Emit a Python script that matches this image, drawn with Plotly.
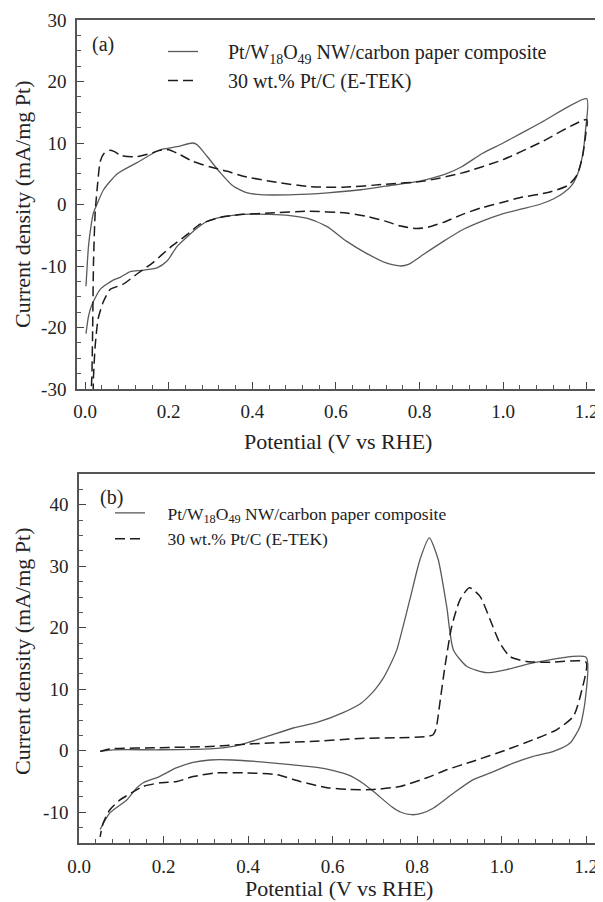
import plotly.graph_objects as go

# ---------------- Panel (a) data ----------------
a_solid_x = [0.002, 0.008, 0.014, 0.020, 0.028, 0.044, 0.077, 0.124, 0.179, 0.220, 0.258, 0.268,
             0.292, 0.323, 0.354, 0.388, 0.420, 0.500, 0.580, 0.660, 0.720, 0.800, 0.860, 0.900,
             0.950, 1.000, 1.090, 1.200,
             1.197, 1.190, 1.180, 1.165, 1.145, 1.120, 1.087, 1.040, 0.995, 0.950, 0.903, 0.857,
             0.810, 0.775, 0.755, 0.720, 0.672, 0.626, 0.579, 0.534, 0.490, 0.440, 0.378, 0.323,
             0.290, 0.265, 0.245, 0.220, 0.196, 0.172, 0.136, 0.108, 0.085, 0.067, 0.036, 0.015,
             0.008, 0.002]
a_solid_y = [-13.3, -6.8, -3.5, -1.3, 0.0, 2.4, 5.0, 6.8, 8.9, 9.4, 10.0, 9.7,
             7.8, 5.2, 3.0, 1.9, 1.6, 1.6, 1.9, 2.4, 3.0, 3.8, 4.9, 6.1,
             8.3, 10.0, 13.3, 17.2,
             12.0, 8.0, 5.3, 3.2, 1.9, 0.9, 0.0, -0.8, -1.6, -2.7, -4.1, -6.0,
             -8.1, -9.7, -10.0, -9.5, -7.9, -6.0, -3.6, -2.3, -1.8, -1.6, -1.6, -2.1,
             -2.8, -4.0, -5.2, -6.8, -9.2, -10.3, -10.7, -10.9, -11.8, -12.3, -13.8, -16.5,
             -18.2, -21.0]

a_dash_x = [0.013, 0.016, 0.018, 0.020, 0.024, 0.030, 0.036, 0.045, 0.058, 0.070, 0.085, 0.100,
            0.124, 0.156, 0.179, 0.200, 0.227, 0.258, 0.300, 0.340, 0.378, 0.459, 0.538, 0.617,
            0.720, 0.810, 0.900, 1.000, 1.087, 1.200,
            1.198, 1.190, 1.177, 1.155, 1.110, 1.040, 0.995, 0.950, 0.903, 0.857, 0.820, 0.793,
            0.755, 0.718, 0.672, 0.626, 0.534, 0.441, 0.378, 0.323, 0.275, 0.244, 0.203, 0.163,
            0.124, 0.090, 0.060, 0.043, 0.031, 0.024, 0.020, 0.019]
a_dash_y = [-32.0, -28.0, -20.0, -9.4, -1.3, 3.5, 7.0, 8.3, 8.8, 8.6, 8.0, 7.8,
            7.8, 8.3, 8.8, 8.9, 8.1, 7.0, 6.1, 5.4, 4.6, 3.6, 2.9, 2.8,
            3.3, 3.8, 5.1, 7.3, 10.0, 13.8,
            11.6, 7.8, 4.8, 3.1, 2.0, 1.1, 0.3, -0.5, -1.6, -2.9, -3.7, -3.9,
            -3.5, -2.7, -1.9, -1.4, -1.1, -1.4, -1.6, -2.1, -3.2, -4.9, -7.0, -9.4,
            -11.3, -13.0, -13.8, -15.9, -18.6, -23.0, -28.0, -32.0]

# ---------------- Panel (b) data ----------------
b_solid_x = [0.050, 0.080, 0.190, 0.310, 0.364, 0.397, 0.444, 0.507, 0.563, 0.625, 0.665, 0.682,
             0.700, 0.720, 0.736, 0.752, 0.783, 0.807, 0.829, 0.850, 0.870, 0.886, 0.918, 0.965,
             1.012, 1.075, 1.200,
             1.198, 1.186, 1.162, 1.123, 1.075, 1.028, 0.981, 0.933, 0.886, 0.839, 0.810, 0.787,
             0.762, 0.740, 0.700, 0.670, 0.640, 0.600, 0.563, 0.507, 0.430, 0.364, 0.310, 0.270,
             0.230, 0.190, 0.152, 0.137, 0.113, 0.073, 0.050]
b_solid_y = [-0.1, 0.15, 0.16, 0.3, 0.7, 1.3, 2.3, 3.7, 4.6, 6.2, 7.6, 8.6,
             9.9, 11.8, 13.9, 16.4, 24.6, 31.1, 34.6, 31.1, 23.5, 16.4, 13.7, 12.7,
             13.2, 14.3, 15.2,
             8.3, 4.0, 1.25, -0.1, -0.9, -2.0, -3.4, -4.7, -6.9, -9.3, -10.2, -10.4,
             -10.0, -9.1, -6.8, -5.2, -4.0, -3.2, -2.7, -2.3, -1.8, -1.5, -1.5, -1.9,
             -2.8, -4.2, -5.2, -6.0, -8.0, -10.1, -12.8]

b_dash_x = [0.050, 0.073, 0.190, 0.310, 0.428, 0.547, 0.665, 0.750, 0.823, 0.838, 0.845, 0.854,
            0.866, 0.882, 0.902, 0.924, 0.949, 0.973, 0.996, 1.020, 1.060, 1.115, 1.200,
            1.190, 1.170, 1.130, 1.075, 1.012, 0.933, 0.870, 0.823, 0.760, 0.697, 0.641, 0.587,
            0.523, 0.469, 0.397, 0.326, 0.270, 0.232, 0.192, 0.152, 0.128, 0.097, 0.073, 0.057,
            0.050]
b_dash_y = [-0.1, 0.3, 0.5, 0.7, 1.2, 1.5, 2.0, 2.1, 2.3, 2.6, 3.6, 7.8,
            13.7, 20.2, 24.6, 26.5, 25.1, 21.3, 17.5, 15.3, 14.5, 14.4, 14.4,
            9.9, 5.6, 3.4, 1.8, 0.16, -1.7, -3.1, -4.4, -5.8, -6.3, -6.3, -6.0,
            -5.0, -3.9, -3.6, -3.6, -4.2, -5.0, -5.2, -5.8, -6.7, -8.0, -9.6, -11.8,
            -14.0]

name_solid = "Pt/W<sub>18</sub>O<sub>49</sub> NW/carbon paper composite"
name_dash = "30 wt.% Pt/C (E-TEK)"
x_ticks = [0.0, 0.2, 0.4, 0.6, 0.8, 1.0, 1.2]
x_ticktext = ["0.0", "0.2", "0.4", "0.6", "0.8", "1.0", "1.2"]
ya_ticks = [-30, -20, -10, 0, 10, 20, 30]
ya_ticktext = ["-30", "-20", "-10", "0", "10", "20", "30"]
yb_ticks = [-10, 0, 10, 20, 30, 40]
yb_ticktext = ["-10", "0", "10", "20", "30", "40"]

FONT = "Liberation Serif, Times New Roman, serif"
# page body adds an 8px margin; the figure is sized so that it ends at the window edge
OFF = 8
W, H = 603 - OFF, 902 - OFF
SOLID_C = "#5a5a5a"
DASH_C = "#1c1c1c"
TXT = "#222222"

fig = go.Figure()

nb5 = "\u00a0" * 5
nb4 = "\u00a0" * 4

fig.add_trace(go.Scatter(x=a_solid_x, y=a_solid_y, mode="lines", name=nb5 + name_solid,
                         line=dict(color=SOLID_C, width=1.3, shape="spline", smoothing=0.6),
                         xaxis="x", yaxis="y", legend="legend"))
fig.add_trace(go.Scatter(x=a_dash_x, y=a_dash_y, mode="lines", name=nb5 + name_dash,
                         line=dict(color=DASH_C, width=1.5, dash="10px,5px", shape="spline", smoothing=0.6),
                         xaxis="x", yaxis="y", legend="legend"))
fig.add_trace(go.Scatter(x=b_solid_x, y=b_solid_y, mode="lines", name=nb4 + name_solid,
                         line=dict(color=SOLID_C, width=1.3, shape="spline", smoothing=0.6),
                         xaxis="x2", yaxis="y2", legend="legend2"))
fig.add_trace(go.Scatter(x=b_dash_x, y=b_dash_y, mode="lines", name=nb4 + name_dash,
                         line=dict(color=DASH_C, width=1.5, dash="10px,5px", shape="spline", smoothing=0.6),
                         xaxis="x2", yaxis="y2", legend="legend2"))

axis_common = dict(showgrid=False, zeroline=False, showline=True, linecolor="#555555",
                   linewidth=1.5, ticks="inside", ticklen=7, tickwidth=1.2, tickcolor="#444444",
                   automargin=False, tickmode="array",
                   tickfont=dict(family=FONT, size=19, color=TXT))
minor_common = dict(ticks="inside", ticklen=4, tickwidth=1, tickcolor="#555555", showgrid=False)

def px_x(p):
    return (p - OFF) / W

def px_y(p):
    return 1 - (p - OFF) / H

fig.update_layout(
    template="none",
    width=W, height=H,
    margin=dict(l=0, r=0, t=0, b=0, pad=0),
    paper_bgcolor="white", plot_bgcolor="white",
    font=dict(family=FONT, color=TXT),
    xaxis=dict(axis_common, domain=[px_x(77), 1], range=[-0.0195, 1.239], anchor="y",
               tickvals=x_ticks, ticktext=x_ticktext, mirror=True, ticklabelstandoff=4,
               minor=dict(minor_common, dtick=0.04, tick0=0)),
    yaxis=dict(axis_common, domain=[px_y(389), px_y(20)], range=[-30, 30], anchor="x",
               tickvals=ya_ticks, ticktext=ya_ticktext, ticklabelstandoff=5,
               minor=dict(minor_common, dtick=2.5, tick0=0)),
    xaxis2=dict(axis_common, domain=[px_x(79), 1], range=[0, 1.240], anchor="y2",
                tickvals=x_ticks, ticktext=x_ticktext, mirror=True, ticklabelstandoff=5,
                minor=dict(minor_common, dtick=0.04, tick0=0)),
    yaxis2=dict(axis_common, domain=[px_y(843), px_y(474)], range=[-15, 45], anchor="x2",
                tickvals=yb_ticks, ticktext=yb_ticktext, ticklabelstandoff=5,
                minor=dict(minor_common, dtick=2.5, tick0=0)),
    legend=dict(x=px_x(163), y=px_y(32), xanchor="left", yanchor="top",
                bgcolor="rgba(0,0,0,0)", borderwidth=0,
                font=dict(family=FONT, size=20, color=TXT), tracegroupgap=0),
    legend2=dict(x=px_x(110), y=px_y(495), xanchor="left", yanchor="top",
                 bgcolor="rgba(0,0,0,0)", borderwidth=0,
                 font=dict(family=FONT, size=17.5, color=TXT), tracegroupgap=0),
    showlegend=True,
)

def anno(text, x, y, size, angle=0):
    return dict(text=text, x=px_x(x), y=px_y(y), xref="paper", yref="paper", showarrow=False,
                xanchor="center", yanchor="middle", textangle=angle,
                font=dict(family=FONT, size=size, color=TXT))

annos = [
    anno("(a)", 103, 45, 20),
    anno("(b)", 111, 497, 20),
    anno("Current density (mA/mg Pt)", 22, 205, 22, -90),
    anno("Current density (mA/mg Pt)", 22, 652, 22, -90),
    anno("Potential (V vs RHE)", 338, 441, 22),
    anno("Potential (V vs RHE)", 339, 888, 22),
]
fig.update_layout(annotations=annos)

fig.write_html("out.html")
